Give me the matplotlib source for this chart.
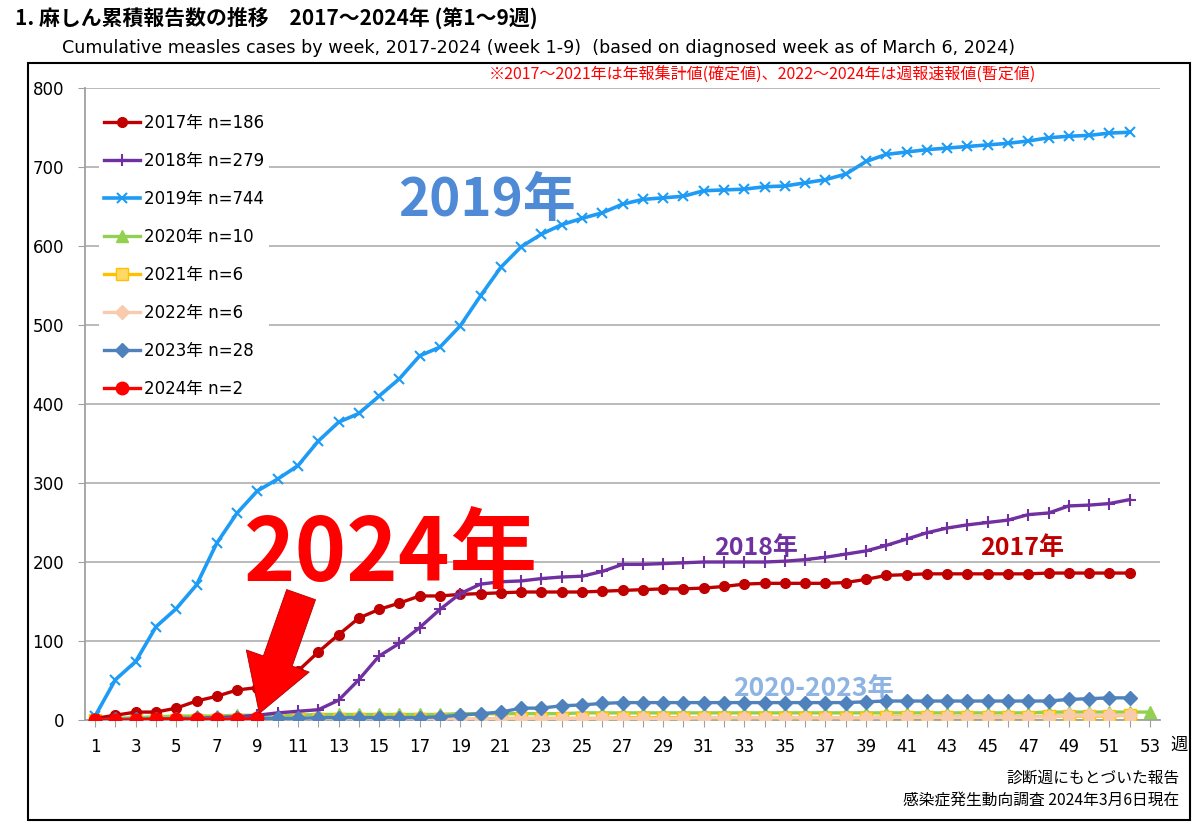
import matplotlib
matplotlib.use("Agg")
import matplotlib.pyplot as plt
from matplotlib.patches import Rectangle

plt.rcParams['font.family'] = ['DejaVu Sans', 'Noto Sans CJK JP']
JP = ['Noto Sans CJK JP', 'DejaVu Sans']

# 累積報告数 (週ごと)
weeks52 = list(range(1, 53))
weeks53 = list(range(1, 54))
weeks24 = list(range(1, 10))

y2017 = [2, 6, 10, 10, 15, 24, 30, 38, 41, 52, 62, 86, 108, 129, 140, 148, 157, 157, 159, 160,
         161, 162, 162, 162, 162, 163, 164, 165, 166, 166, 167, 169, 172, 173, 173, 173, 173, 174, 178, 183,
         184, 185, 185, 185, 185, 185, 185, 186, 186, 186, 186, 186]
y2018 = [0, 0, 1, 1, 2, 2, 3, 4, 6, 9, 11, 13, 25, 51, 81, 97, 117, 140, 160, 172,
         175, 176, 179, 181, 182, 188, 197, 197, 198, 199, 200, 200, 200, 200, 201, 203, 206, 210, 214, 221,
         229, 237, 243, 247, 250, 253, 260, 262, 271, 272, 274, 279]
y2019 = [5, 51, 74, 118, 141, 171, 224, 262, 290, 305, 322, 353, 377, 388, 410, 432, 461, 472, 499, 537,
         573, 599, 615, 627, 635, 642, 653, 659, 661, 663, 670, 671, 672, 675, 676, 680, 684, 691, 707, 716,
         719, 722, 724, 726, 728, 730, 733, 737, 739, 740, 743, 744]
y2020 = [1, 2, 3, 4, 5, 5, 5, 6, 6, 6, 6, 7, 7, 7, 7, 7, 7, 7, 8, 8,
         8, 8, 8, 8, 9, 9, 9, 9, 9, 9, 9, 9, 9, 9, 9, 9, 9, 9, 9, 9,
         9, 9, 9, 9, 9, 9, 9, 10, 10, 10, 10, 10, 10]
y2021 = [0, 0, 0, 0, 0, 0, 0, 0, 0, 1, 1, 1, 1, 1, 1, 1, 1, 1, 1, 1,
         2, 2, 2, 2, 2, 2, 3, 3, 3, 3, 3, 3, 3, 3, 3, 3, 3, 3, 3, 4,
         4, 4, 4, 4, 4, 4, 4, 5, 5, 5, 5, 6]
y2022 = [0, 0, 0, 0, 0, 1, 1, 1, 1, 1, 1, 1, 1, 1, 1, 1, 1, 1, 1, 1,
         2, 2, 2, 2, 2, 2, 2, 2, 2, 2, 3, 3, 3, 3, 3, 3, 3, 3, 3, 3,
         4, 4, 4, 4, 4, 4, 4, 4, 6, 6, 6, 6]
y2023 = [0, 1, 1, 1, 1, 2, 2, 2, 2, 2, 2, 3, 3, 3, 3, 3, 3, 4, 6, 8,
         10, 15, 15, 18, 19, 21, 22, 22, 22, 22, 22, 22, 22, 22, 22, 22, 22, 22, 23, 24,
         24, 24, 24, 24, 24, 24, 24, 24, 26, 27, 28, 28]
y2024 = [0, 0, 0, 1, 1, 1, 1, 1, 2]

fig = plt.figure(figsize=(12, 8.25), dpi=100)
ax = fig.add_axes([0.0708, 0.1273, 0.896, 0.766])

ax.plot(weeks52, y2017, color='#C00000', lw=2.4, marker='o', ms=7, label='2017年 n=186', zorder=5)
ax.plot(weeks52, y2018, color='#7030A0', lw=2.4, marker='+', ms=9, mew=1.5, label='2018年 n=279', zorder=5)
ax.plot(weeks52, y2019, color='#1E9BF5', lw=2.6, marker='x', ms=7, mew=1.5, label='2019年 n=744', zorder=5)
ax.plot(weeks53, y2020, color='#92D050', lw=2.4, marker='^', ms=8, label='2020年 n=10', zorder=4)
ax.plot(weeks52, y2021, color='#FFC000', lw=2.4, marker='s', ms=8, mfc='#FFD966', mec='#FFC000',
        label='2021年 n=6', zorder=4)
ax.plot(weeks52, y2022, color='#F8CBAD', lw=2.4, marker='D', ms=7, label='2022年 n=6', zorder=4)
ax.plot(weeks52, y2023, color='#4F81BD', lw=2.4, marker='D', ms=7, label='2023年 n=28', zorder=5)
ax.plot(weeks24, y2024, color='#FF0000', lw=2.4, marker='o', ms=9, label='2024年 n=2', zorder=6)

ax.set_xlim(0.5, 53.5)
ax.set_ylim(0, 800)
ax.set_yticks(range(0, 801, 100))
ax.set_xticks(weeks53)
ax.set_xticklabels([str(w) if w % 2 == 1 else '' for w in weeks53])
ax.tick_params(axis='both', labelsize=12, color='#A0A0A0', length=5)
ax.tick_params(axis='x', pad=8)
ax.tick_params(axis='y', pad=10)
ax.grid(axis='y', color='#B4B4B4', lw=1.3)
ax.set_axisbelow(True)
for s in ['top', 'right']:
    ax.spines[s].set_visible(False)
for s in ['left', 'bottom']:
    ax.spines[s].set_color('#A0A0A0')
    ax.spines[s].set_linewidth(1.3)

leg = ax.legend(loc='upper left', bbox_to_anchor=(0.005, 0.98), fontsize=12, handlelength=2.2,
                handletextpad=0.2, labelspacing=1.2, frameon=True, framealpha=1, edgecolor='none',
                fancybox=False, borderpad=0.3)

# 注記
ax.text(20.3, 657, '2019年', color='#4F8AD6', fontsize=38, fontweight='bold', family=JP,
        ha='center', va='center', zorder=7)
ax.text(15.6, 208, '2024年', color='#FF0000', fontsize=63, fontweight='bold', family=JP,
        ha='center', va='center', zorder=7)
ax.text(33.6, 218, '2018年', color='#7030A0', fontsize=18, fontweight='bold', family=JP,
        ha='center', va='center', zorder=7)
ax.text(46.7, 218, '2017年', color='#C00000', fontsize=18, fontweight='bold', family=JP,
        ha='center', va='center', zorder=7)
ax.text(36.4, 40, '2020-2023年', color='#8DB4E2', fontsize=19, fontweight='bold', family=JP,
        ha='center', va='center', zorder=7)
ax.annotate('', xy=(9.05, 5), xytext=(11.2, 162),
            arrowprops=dict(arrowstyle='simple,head_width=2.4,head_length=2.0,tail_width=1.1',
                            mutation_scale=20, fc='#FF0000', ec='#B00000', lw=0.6),
            zorder=8)

ax.text(1.01, -0.04, '週', transform=ax.transAxes, fontsize=12.5, family=JP, ha='left', va='center')

fig.text(0.0125, 0.978, '1. 麻しん累積報告数の推移　2017～2024年 (第1～9週)', fontsize=15,
         fontweight='bold', family=JP, ha='left', va='center')
fig.text(0.052, 0.942, 'Cumulative measles cases by week, 2017-2024 (week 1-9)  (based on diagnosed week as of March 6, 2024)',
         fontsize=12.6, family=['DejaVu Sans'], ha='left', va='center')
fig.text(0.635, 0.909, '※2017～2021年は年報集計値(確定値)、2022～2024年は週報速報値(暫定値)',
         fontsize=11.5, color='#FF0000', family=JP, ha='center', va='center')
fig.text(0.983, 0.057, '診断週にもとづいた報告', fontsize=11.3, family=JP, ha='right', va='center')
fig.text(0.983, 0.029, '感染症発生動向調査 2024年3月6日現在', fontsize=11.3, family=JP, ha='right', va='center')

fig.patches.append(Rectangle((0.0233, 0.006), 0.968, 0.9176, transform=fig.transFigure,
                             fill=False, ec='black', lw=1.5))

fig.savefig('out.png', dpi=100)
